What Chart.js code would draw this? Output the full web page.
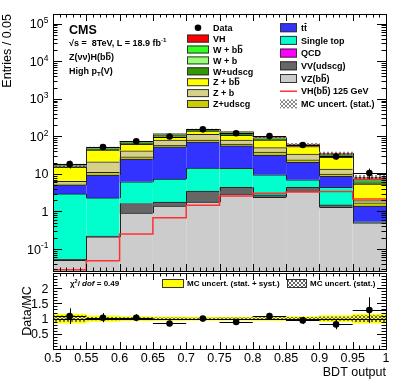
<!DOCTYPE html>
<html>
<head>
<meta charset="utf-8">
<script src="https://cdn.jsdelivr.net/npm/chart.js@4.4.1/dist/chart.umd.min.js"></script>
<style>
  html, body { margin: 0; padding: 0; background: #fff; }
  #wrap { position: relative; width: 407px; height: 391px; overflow: hidden; background: #fff; }
  canvas { position: absolute; left: 0; }
  #mainChart { top: 0; }
  #ratioChart { top: 265px; }
</style>
</head>
<body>
<div id="wrap">
  <canvas id="mainChart" width="407" height="275"></canvas>
  <canvas id="ratioChart" width="407" height="126"></canvas>
</div>
<script>
// ---- binning / axis labels ----
const binEdges   = [0.5, 0.55, 0.6, 0.65, 0.7, 0.75, 0.8, 0.85, 0.9, 0.95, 1.0];
const binCenters = [0.525, 0.575, 0.625, 0.675, 0.725, 0.775, 0.825, 0.875, 0.925, 0.975];
const xTickLabels = ['0.5', '0.55', '0.6', '0.65', '0.7', '0.75', '0.8', '0.85', '0.9', '0.95', '1'];
const logTickPowers = [-1, 0, 1, 2, 3, 4, 5];
const ratioTickValues = [0.5, 1, 1.5, 2];
const ratioTickLabels = ['0.5', '1', '1.5', '2'];

// ---- MC components (events per bin), bottom of the stack first ----
const vzbb      = [0.05, 0.21, 0.91, 1.39, 1.77, 2.9, 2.4, 3.5, 1.3, 0.5];
const vvudscg   = [0.003, 0.01, 0.72, 0.38, 1.7, 1.5, 0.37, 0.9, 0.2, 0.01];
const singleTop = [2.89, 2.08, 4.57, 5.53, 10.8, 9.7, 6.73, 2.6, 2.9, 0.02];
const qcd       = [0, 0, 0, 0, 0, 0, 0, 0, 0, 0];
const ttbar     = [2.16, 7.05, 18.6, 45.2, 56.7, 41.6, 22.5, 13.3, 4.2, 0.86];
const zudscg    = [0.3, 1.65, 3.7, 5.5, 9, 6.3, 6, 3.5, 1.3, 0.31];
const zb        = [1.0, 10, 12.5, 22, 34, 18, 12, 9.8, 3.6, 0.25];
const zbb       = [8.6, 21.9, 20.8, 24, 25, 27, 30, 20.1, 14, 3.45];
const wudscg    = [0.9, 3.5, 4.5, 6.5, 6.5, 11, 5, 2.5, 2, 0.5];
const wb        = [0.4, 1.5, 2.2, 3, 3, 5.5, 2.5, 1.3, 1.2, 0.4];
const wbb       = [0.5, 1.9, 2.5, 3.5, 4, 7.5, 3.5, 2.0, 1.9, 0.7];
const vh        = [0.03, 0.05, 0.25, 0.68, 1.5, 2.6, 3.1, 3.3, 3.4, 1.3];

// signal line, MC stat. uncertainty (relative), data
const vhLine    = [0.028, 0.049, 0.25, 0.68, 1.47, 2.6, 3.07, 3.3, 3.4, 2.15];
const mcStatRel = [0.09, 0.04, 0.03, 0.025, 0.02, 0.025, 0.03, 0.04, 0.06, 0.1];
const mcTotRel  = [0.15, 0.09, 0.07, 0.06, 0.05, 0.05, 0.06, 0.07, 0.1, 0.15];
const dataVals  = [18.3, 52, 74, 99, 154, 121, 102, 59, 29.2, 10.6];
const dataErr   = [4.3, 7.2, 8.6, 10, 12.4, 11, 10.1, 7.7, 5.4, 3.3];

// ratio panel
const ratioVals = [1.08, 1.03, 1.03, 0.84, 1.0, 0.89, 1.08, 0.94, 0.81, 1.28];
const ratioErr  = [0.26, 0.15, 0.12, 0.09, 0.08, 0.08, 0.11, 0.12, 0.16, 0.42];
const chi2Text = 'χ^(2)/ ~(dof) = 0.49';

const COLORS = {
  vh: '#ff0000', wbb: '#33ff22', wb: '#99ff77', wudscg: '#339900',
  zbb: '#ffff00', zb: '#d6d08a', zudscg: '#cccc00', tt: '#3333ff',
  st: '#00ffcc', qcd: '#ff00ff', vv: '#666666', vz: '#cccccc',
  line: '#ff3030', outline: '#222222', band: '#ffff00'
};
const FONT = "'Liberation Sans', Arial, Helvetica, sans-serif";

// stack definition (bottom -> top)
const stackDefs = [
  { label: 'VZ(b{b})',   values: vzbb,      color: COLORS.vz },
  { label: 'VV(udscg)',  values: vvudscg,   color: COLORS.vv },
  { label: 'Single top', values: singleTop, color: COLORS.st },
  { label: 'QCD',        values: qcd,       color: COLORS.qcd },
  { label: 't{t}',       values: ttbar,     color: COLORS.tt },
  { label: 'Z+udscg',    values: zudscg,    color: COLORS.zudscg },
  { label: 'Z + b',      values: zb,        color: COLORS.zb },
  { label: 'Z + b{b}',   values: zbb,       color: COLORS.zbb },
  { label: 'W+udscg',    values: wudscg,    color: COLORS.wudscg },
  { label: 'W + b',      values: wb,        color: COLORS.wb },
  { label: 'W + b{b}',   values: wbb,       color: COLORS.wbb },
  { label: 'VH',         values: vh,        color: COLORS.vh }
];

const mcTotal = binCenters.map((_, i) => stackDefs.reduce((s, d) => s + d.values[i], 0));

// ---- helpers ----
function font(size, bold, italic) {
  return (italic ? 'italic ' : '') + (bold ? 'bold ' : '') + size + 'px ' + FONT;
}

// {x} = overlined, ^(x) = superscript, _(x) = subscript, ~(x) = italic
function parseRich(s) {
  const parts = [];
  const re = /\{([^}]*)\}|\^\(([^)]*)\)|_\(([^)]*)\)|~\(([^)]*)\)|([^{^_~]+)/g;
  let m;
  while ((m = re.exec(s))) {
    if (m[1] !== undefined) parts.push({ t: m[1], bar: true });
    else if (m[2] !== undefined) parts.push({ t: m[2], sup: true });
    else if (m[3] !== undefined) parts.push({ t: m[3], sub: true });
    else if (m[4] !== undefined) parts.push({ t: m[4], it: true });
    else parts.push({ t: m[5] });
  }
  return parts;
}

function drawRich(ctx, str, x, y, size, opts = {}) {
  const parts = parseRich(str);
  const bold = !!opts.bold;
  const small = size * 0.68;
  let total = 0;
  const widths = parts.map(p => {
    ctx.font = font((p.sup || p.sub) ? small : size, bold, p.it);
    const w = ctx.measureText(p.t).width;
    total += w;
    return w;
  });
  let cx = opts.align === 'right' ? x - total : (opts.align === 'center' ? x - total / 2 : x);
  const base = y + size * 0.36;
  ctx.fillStyle = '#000';
  ctx.textAlign = 'left';
  ctx.textBaseline = 'alphabetic';
  parts.forEach((p, i) => {
    ctx.font = font((p.sup || p.sub) ? small : size, bold, p.it);
    let by = base;
    if (p.sup) by = base - size * 0.42;
    if (p.sub) by = base + size * 0.22;
    ctx.fillText(p.t, cx, by);
    if (p.bar) ctx.fillRect(cx + 0.5, by - size * 0.88, widths[i] - 1, 1);
    cx += widths[i];
  });
  return total;
}

function makeHatch(color) {
  const c = document.createElement('canvas');
  c.width = 4; c.height = 4;
  const g = c.getContext('2d');
  g.fillStyle = color;
  for (let i = 0; i < 4; i++) {
    g.fillRect(i, i, 1, 1);
    g.fillRect(3 - i, i, 1, 1);
  }
  return g.createPattern(c, 'repeat');
}

function frameAndTicks(ctx, a, xs, ys, yTicks) {
  ctx.save();
  ctx.strokeStyle = '#000';
  ctx.lineWidth = 1;
  ctx.beginPath();
  // x ticks, every 0.01
  for (let i = 0; i <= 50; i++) {
    const px = Math.round(xs.getPixelForValue(0.5 + i * 0.01)) + 0.5;
    const len = i % 5 === 0 ? 7 : 3.5;
    ctx.moveTo(px, a.bottom); ctx.lineTo(px, a.bottom - len);
    ctx.moveTo(px, a.top); ctx.lineTo(px, a.top + len);
  }
  yTicks.forEach(t => {
    const py = Math.round(ys.getPixelForValue(t.v)) + 0.5;
    if (py < a.top || py > a.bottom + 1) return;
    const len = t.major ? 9 : 4.5;
    ctx.moveTo(a.left, py); ctx.lineTo(a.left + len, py);
    ctx.moveTo(a.right, py); ctx.lineTo(a.right - len, py);
  });
  ctx.stroke();
  ctx.strokeRect(Math.floor(a.left) + 0.5, Math.floor(a.top) + 0.5,
    Math.round(a.right - a.left), Math.round(a.bottom - a.top));
  ctx.restore();
}

function drawErrorBars(chart, values, errs, halfWidth) {
  const { ctx, chartArea: a, scales: { x, y } } = chart;
  ctx.save();
  ctx.beginPath();
  ctx.rect(a.left, a.top, a.right - a.left, a.bottom - a.top);
  ctx.clip();
  ctx.strokeStyle = '#000';
  ctx.lineWidth = 1;
  ctx.beginPath();
  binCenters.forEach((c, i) => {
    const px = Math.round(x.getPixelForValue(c)) + 0.5;
    const py = Math.round(y.getPixelForValue(values[i])) + 0.5;
    ctx.moveTo(px, y.getPixelForValue(values[i] - errs[i]));
    ctx.lineTo(px, y.getPixelForValue(values[i] + errs[i]));
    ctx.moveTo(x.getPixelForValue(c - halfWidth), py);
    ctx.lineTo(x.getPixelForValue(c + halfWidth), py);
  });
  ctx.stroke();
  ctx.restore();
}

const hatchMain = makeHatch('#8a8a8a');
const hatchRatio = makeHatch('#666666');

// ---- main panel ----
const legendLeft = [
  { label: 'Data', kind: 'marker' },
  { label: 'VH', color: COLORS.vh },
  { label: 'W + b{b}', color: COLORS.wbb },
  { label: 'W + b', color: COLORS.wb },
  { label: 'W+udscg', color: COLORS.wudscg },
  { label: 'Z + b{b}', color: COLORS.zbb },
  { label: 'Z + b', color: COLORS.zb },
  { label: 'Z+udscg', color: COLORS.zudscg }
];
const legendRight = [
  { label: 't{t}', color: COLORS.tt },
  { label: 'Single top', color: COLORS.st },
  { label: 'QCD', color: COLORS.qcd },
  { label: 'VV(udscg)', color: COLORS.vv },
  { label: 'VZ(b{b})', color: COLORS.vz },
  { label: 'VH(b{b}) 125 GeV', kind: 'line' },
  { label: 'MC uncert. (stat.)', kind: 'hatch' }
];

const mainDecor = {
  id: 'mainDecor',
  afterDatasetDraw(chart, args) {
    const ds = chart.data.datasets[args.index];
    if (ds.stack !== 'mc') return;
    // vertical step edges of the cumulative histogram outline
    const bars = args.meta.data;
    const { ctx, chartArea: a } = chart;
    ctx.save();
    ctx.beginPath();
    ctx.rect(a.left, a.top, a.right - a.left, a.bottom - a.top);
    ctx.clip();
    ctx.strokeStyle = COLORS.outline;
    ctx.lineWidth = 1;
    ctx.beginPath();
    for (let i = 0; i < bars.length - 1; i++) {
      const b0 = bars[i], b1 = bars[i + 1];
      const xe = Math.round(b0.x + b0.width / 2) + 0.5;
      ctx.moveTo(xe, b0.y);
      ctx.lineTo(xe, b1.y);
    }
    ctx.stroke();
    ctx.restore();
  },
  afterDatasetsDraw(chart) {
    drawErrorBars(chart, dataVals, dataErr, 0.025);
  },
  afterDraw(chart) {
    const { ctx, chartArea: a, scales: { x, y } } = chart;
    const yTicks = [];
    for (let d = -2; d <= 5; d++) {
      for (let k = 1; k <= 9; k++) yTicks.push({ v: k * Math.pow(10, d), major: k === 1 });
    }
    frameAndTicks(ctx, a, x, y, yTicks);

    // y labels
    logTickPowers.forEach(p => {
      const py = y.getPixelForValue(Math.pow(10, p));
      const txt = p === 0 ? '1' : (p === 1 ? '10' : '10^(' + p + ')');
      drawRich(ctx, txt, 48.5, py, 12.5, { align: 'right' });
    });

    // y title
    ctx.save();
    ctx.translate(8, a.top);
    ctx.rotate(-Math.PI / 2);
    ctx.font = font(12.5);
    ctx.fillStyle = '#000';
    ctx.textAlign = 'right';
    ctx.textBaseline = 'middle';
    ctx.fillText('Entries / 0.05', 0, 0);
    ctx.restore();

    // CMS labels
    drawRich(ctx, 'CMS', 69, 29, 12.5, { bold: true });
    drawRich(ctx, '√s =  8TeV, L = 18.9 fb^(-1)', 69, 43, 9, { bold: true });
    drawRich(ctx, 'Z(νν)H(b{b})', 69, 57, 9, { bold: true });
    drawRich(ctx, 'High p_(T)(V)', 69, 71, 9, { bold: true });

    // legend, left column
    legendLeft.forEach((e, i) => {
      const cy = 27.7 + i * 10.9;
      if (e.kind === 'marker') {
        ctx.fillStyle = '#000';
        ctx.beginPath();
        ctx.arc(198, cy, 3.3, 0, Math.PI * 2);
        ctx.fill();
      } else {
        ctx.fillStyle = e.color;
        ctx.fillRect(187, cy - 4, 22, 8);
        ctx.strokeStyle = '#333';
        ctx.lineWidth = 1;
        ctx.strokeRect(187.5, cy - 3.5, 21, 7);
      }
      drawRich(ctx, e.label, 213, cy, 9, { bold: true });
    });
    // legend, right column
    legendRight.forEach((e, i) => {
      const cy = 27.7 + i * 12.7;
      if (e.kind === 'line') {
        ctx.strokeStyle = COLORS.line;
        ctx.lineWidth = 1.5;
        ctx.beginPath();
        ctx.moveTo(280, cy); ctx.lineTo(297, cy);
        ctx.stroke();
      } else if (e.kind === 'hatch') {
        ctx.fillStyle = hatchMain;
        ctx.fillRect(280, cy - 4.5, 17, 9);
      } else {
        ctx.fillStyle = e.color;
        ctx.fillRect(280, cy - 4.5, 17, 9);
        ctx.strokeStyle = '#333';
        ctx.lineWidth = 1;
        ctx.strokeRect(280.5, cy - 4, 16, 8);
      }
      drawRich(ctx, e.label, 301, cy, 9, { bold: true });
    });
  }
};

const mcDatasets = stackDefs.map(d => ({
  type: 'bar',
  label: d.label,
  data: binCenters.map((c, i) => ({ x: c, y: d.values[i] })),
  backgroundColor: d.color,
  borderColor: COLORS.outline,
  borderWidth: { top: 1, left: 0, right: 0, bottom: 0 },
  borderSkipped: false,
  barPercentage: 1,
  categoryPercentage: 1,
  stack: 'mc',
  order: 10
}));

new Chart(document.getElementById('mainChart'), {
  type: 'bar',
  data: {
    datasets: [
      {
        type: 'scatter',
        label: 'Data',
        data: binCenters.map((c, i) => ({ x: c, y: dataVals[i] })),
        pointRadius: 3.3,
        pointBackgroundColor: '#000',
        pointBorderWidth: 0,
        order: 0
      },
      {
        type: 'line',
        label: 'VH(bb) 125 GeV',
        // one point per bin edge; each bin's level is held until the next edge
        data: binEdges.map((e, i) => ({ x: e, y: vhLine[Math.min(i, vhLine.length - 1)] })),
        stepped: 'before',
        borderColor: COLORS.line,
        borderWidth: 1.5,
        pointRadius: 0,
        fill: false,
        order: 1
      },
      {
        type: 'bar',
        label: 'MC uncert. (stat.)',
        data: binCenters.map((c, i) => ({ x: c, y: [mcTotal[i] * (1 - mcStatRel[i]), mcTotal[i] * (1 + mcStatRel[i])] })),
        backgroundColor: hatchMain,
        borderWidth: 0,
        barPercentage: 1,
        categoryPercentage: 1,
        grouped: false,
        stack: 'unc',
        order: 2
      },
      ...mcDatasets
    ]
  },
  options: {
    responsive: false,
    animation: false,
    devicePixelRatio: 1,
    events: [],
    datasets: { bar: { barPercentage: 1, categoryPercentage: 1 } },
    layout: { padding: { left: 53, right: 21, top: 14, bottom: 2 } },
    plugins: { legend: { display: false }, tooltip: { enabled: false } },
    scales: {
      x: { type: 'linear', min: 0.5, max: 1.0, offset: false, stacked: true, display: false, ticks: { stepSize: 0.05 } },
      y: { type: 'logarithmic', min: 0.026, max: 1.82e5, bounds: 'data', stacked: true, display: false }
    }
  },
  plugins: [mainDecor]
});

// ---- ratio panel ----
const ratioDecor = {
  id: 'ratioDecor',
  afterDatasetDraw(chart, args) {
    if (chart.data.datasets[args.index].label !== 'MC uncert. (stat.)') return;
    const { ctx, chartArea: a, scales: { y } } = chart;
    const py = Math.round(y.getPixelForValue(1)) + 0.5;
    ctx.save();
    ctx.strokeStyle = '#000';
    ctx.lineWidth = 1;
    ctx.beginPath();
    ctx.moveTo(a.left, py); ctx.lineTo(a.right, py);
    ctx.stroke();
    ctx.restore();
  },
  afterDatasetsDraw(chart) {
    drawErrorBars(chart, ratioVals, ratioErr, 0.025);
  },
  afterDraw(chart) {
    const { ctx, chartArea: a, scales: { x, y } } = chart;
    const yTicks = [];
    for (let i = 0; i <= 25; i++) yTicks.push({ v: i * 0.1, major: i % 5 === 0 });
    frameAndTicks(ctx, a, x, y, yTicks);

    ratioTickValues.forEach((v, i) => {
      drawRich(ctx, ratioTickLabels[i], 48.5, y.getPixelForValue(v), 12.5, { align: 'right' });
    });
    binEdges.forEach((e, i) => {
      drawRich(ctx, xTickLabels[i], x.getPixelForValue(e), 92, 12.5, { align: 'center' });
    });
    drawRich(ctx, 'BDT output', a.right, 106, 12.5, { align: 'right' });

    ctx.save();
    ctx.translate(28, (a.top + a.bottom) / 2);
    ctx.rotate(-Math.PI / 2);
    ctx.font = font(12.5);
    ctx.fillStyle = '#000';
    ctx.textAlign = 'center';
    ctx.textBaseline = 'middle';
    ctx.fillText('Data/MC', 0, 0);
    ctx.restore();

    // chi2 and legend
    drawRich(ctx, chi2Text, 70, 18, 8, { bold: true });
    ctx.fillStyle = COLORS.band;
    ctx.fillRect(162, 14, 22, 9);
    ctx.strokeStyle = '#333';
    ctx.lineWidth = 1;
    ctx.strokeRect(162.5, 14.5, 21, 8);
    drawRich(ctx, 'MC uncert. (stat. + syst.)', 187, 18.5, 8, { bold: true });
    ctx.fillStyle = hatchRatio;
    ctx.fillRect(287, 14, 20, 9);
    ctx.strokeRect(287.5, 14.5, 19, 8);
    drawRich(ctx, 'MC uncert. (stat.)', 310, 18.5, 8, { bold: true });
  }
};

new Chart(document.getElementById('ratioChart'), {
  type: 'bar',
  data: {
    datasets: [
      {
        type: 'scatter',
        label: 'Data/MC',
        data: binCenters.map((c, i) => ({ x: c, y: ratioVals[i] })),
        pointRadius: 3.3,
        pointBackgroundColor: '#000',
        pointBorderWidth: 0,
        order: 0
      },
      {
        type: 'bar',
        label: 'MC uncert. (stat.)',
        data: binCenters.map((c, i) => ({ x: c, y: [1 - mcStatRel[i], 1 + mcStatRel[i]] })),
        backgroundColor: hatchRatio,
        borderWidth: 0,
        barPercentage: 1,
        categoryPercentage: 1,
        order: 2
      },
      {
        type: 'bar',
        label: 'MC uncert. (stat. + syst.)',
        data: binCenters.map((c, i) => ({ x: c, y: [1 - mcTotRel[i], 1 + mcTotRel[i]] })),
        backgroundColor: COLORS.band,
        borderWidth: 0,
        barPercentage: 1,
        categoryPercentage: 1,
        order: 3
      }
    ]
  },
  options: {
    responsive: false,
    animation: false,
    devicePixelRatio: 1,
    events: [],
    datasets: { bar: { barPercentage: 1, categoryPercentage: 1 } },
    layout: { padding: { left: 53, right: 21, top: 8, bottom: 42 } },
    plugins: { legend: { display: false }, tooltip: { enabled: false } },
    scales: {
      x: { type: 'linear', min: 0.5, max: 1.0, offset: false, stacked: true, display: false, ticks: { stepSize: 0.05 } },
      y: { type: 'linear', min: 0, max: 2.5, stacked: false, display: false }
    }
  },
  plugins: [ratioDecor]
});
</script>
</body>
</html>
